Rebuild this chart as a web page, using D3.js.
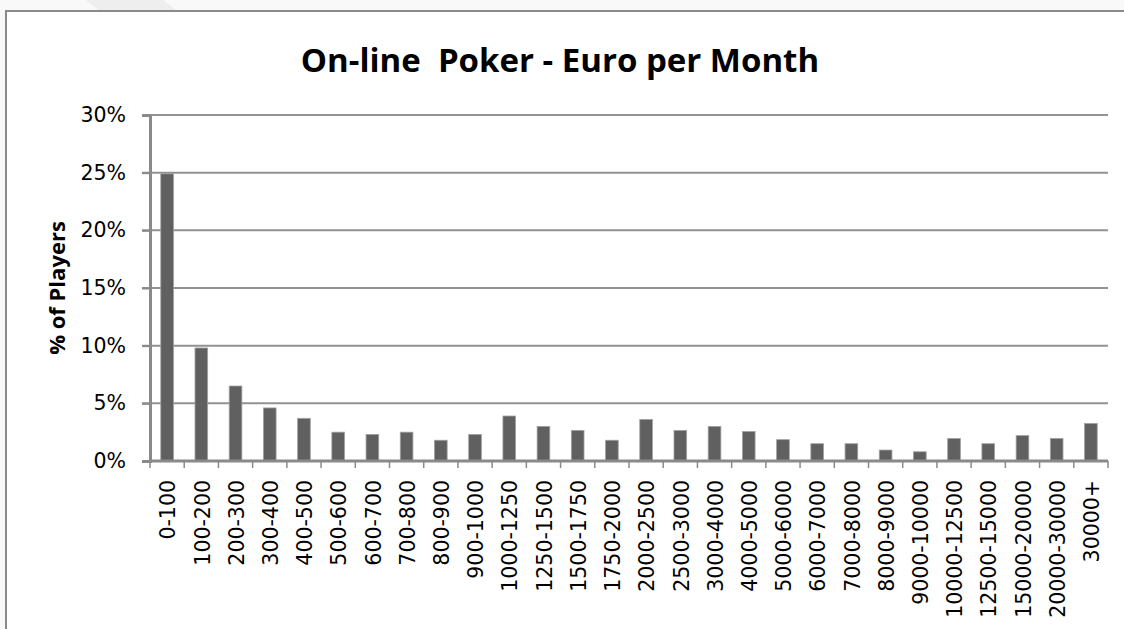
<!DOCTYPE html>
<html>
<head>
<meta charset="utf-8">
<script src="https://cdn.jsdelivr.net/npm/d3@7"></script>
<style>
    body { margin: 0; background: #f9f9f9; }
    svg { display: block; }
</style>
</head>
<body>
<svg id="chart"></svg>
<script>
// income bands on the x axis
const categories = ['0-100', '100-200', '200-300', '300-400', '400-500', '500-600', '600-700',
    '700-800', '800-900', '900-1000', '1000-1250', '1250-1500', '1500-1750', '1750-2000',
    '2000-2500', '2500-3000', '3000-4000', '4000-5000', '5000-6000', '6000-7000', '7000-8000',
    '8000-9000', '9000-10000', '10000-12500', '12500-15000', '15000-20000', '20000-30000', '30000+'];

// share of players in each band (fraction)
const players = [0.249, 0.098, 0.065, 0.046, 0.037, 0.025, 0.023,
    0.025, 0.018, 0.023, 0.039, 0.030, 0.0265, 0.018,
    0.036, 0.0265, 0.030, 0.0255, 0.0185, 0.015, 0.015,
    0.0095, 0.008, 0.0195, 0.015, 0.022, 0.0195, 0.0325];

const yTicks = [0, 0.05, 0.10, 0.15, 0.20, 0.25, 0.30];

const title = 'On-line  Poker - Euro per Month';
const yTitle = '% of Players';

const layout = {
    width: 1124,
    height: 629,
    left: 150,
    right: 1108,
    top: 115,
    bottom: 461
};

const svg = d3.select('#chart')
    .attr('width', layout.width)
    .attr('height', layout.height);

// faint page shape above the frame
svg.append('polygon')
    .attr('points', '86,0 163,0 177,11 100,11')
    .attr('fill', '#eeeeee');

// chart frame
svg.append('rect')
    .attr('x', 6)
    .attr('y', 11)
    .attr('width', 1140)
    .attr('height', 640)
    .attr('fill', '#ffffff')
    .attr('stroke', '#8a8a8a')
    .attr('stroke-width', 2);

//create x scale (bars) and outer scale (tick boundaries)
const xScale = d3.scaleBand()
    .domain(categories)
    .range([layout.left, layout.right])
    .paddingInner(0.63)
    .paddingOuter(0.315);

const xOuter = d3.scaleBand()
    .domain(categories)
    .range([layout.left, layout.right])
    .padding(0);

//create y scale
const yScale = d3.scaleLinear()
    .domain([0, 0.30])
    .range([layout.bottom, layout.top]);

// gridlines
svg.append('g')
    .selectAll('line')
    .data(yTicks.filter(d => d > 0))
    .join('line')
        .attr('x1', layout.left - 8)
        .attr('x2', layout.right)
        .attr('y1', d => yScale(d))
        .attr('y2', d => yScale(d))
        .attr('stroke', '#929292')
        .attr('stroke-width', 2);

// bars
svg.append('g')
    .selectAll('rect')
    .data(players)
    .join('rect')
        .attr('x', (d, i) => xScale(categories[i]))
        .attr('y', d => yScale(d))
        .attr('width', xScale.bandwidth())
        .attr('height', d => yScale(0) - yScale(d))
        .attr('fill', '#606060')
        .attr('stroke', '#a0a0a0')
        .attr('stroke-width', 0.8);

// y axis
const yAxis = d3.axisLeft(yScale)
    .tickValues(yTicks)
    .tickFormat(d3.format('.0%'))
    .tickSize(8)
    .tickPadding(16);

const yG = svg.append('g')
    .attr('transform', `translate(${layout.left}, 0)`)
    .call(yAxis);
yG.select('.domain').attr('stroke', '#8a8a8a').attr('stroke-width', 3);
yG.selectAll('.tick line').attr('stroke', '#8a8a8a').attr('stroke-width', 2);
yG.selectAll('.tick text')
    .attr('font-family', 'DejaVu Sans')
    .attr('font-size', 20.5)
    .attr('fill', '#000');

// x axis labels
const xAxis = d3.axisBottom(xScale)
    .tickSize(0)
    .tickPadding(0);

const xG = svg.append('g')
    .attr('transform', `translate(0, ${layout.bottom})`)
    .call(xAxis);
xG.select('.domain').remove();
xG.selectAll('.tick text')
    .attr('font-family', 'DejaVu Sans')
    .attr('font-size', 20.5)
    .attr('fill', '#000')
    .attr('text-anchor', 'end')
    .attr('transform', 'translate(1, 19) rotate(-90)')
    .attr('x', 0)
    .attr('y', 0)
    .attr('dy', '0.35em');

// x axis line and boundary ticks
svg.append('line')
    .attr('x1', layout.left)
    .attr('x2', layout.right)
    .attr('y1', layout.bottom)
    .attr('y2', layout.bottom)
    .attr('stroke', '#8a8a8a')
    .attr('stroke-width', 3);

svg.append('g')
    .selectAll('line')
    .data(categories.map(c => xOuter(c)).concat([layout.right]))
    .join('line')
        .attr('x1', d => d)
        .attr('x2', d => d)
        .attr('y1', layout.bottom)
        .attr('y2', layout.bottom + 7)
        .attr('stroke', '#8a8a8a')
        .attr('stroke-width', 1.5);

// titles
svg.append('text')
    .attr('x', 560)
    .attr('y', 72)
    .attr('text-anchor', 'middle')
    .attr('font-family', 'Open Sans')
    .attr('font-weight', 'bold')
    .attr('font-size', 33)
    .style('white-space', 'pre')
    .text(title);

svg.append('text')
    .attr('transform', 'translate(65, 288) rotate(-90)')
    .attr('text-anchor', 'middle')
    .attr('font-family', 'Open Sans')
    .attr('font-weight', 'bold')
    .attr('font-size', 22)
    .text(yTitle);
</script>
</body>
</html>
